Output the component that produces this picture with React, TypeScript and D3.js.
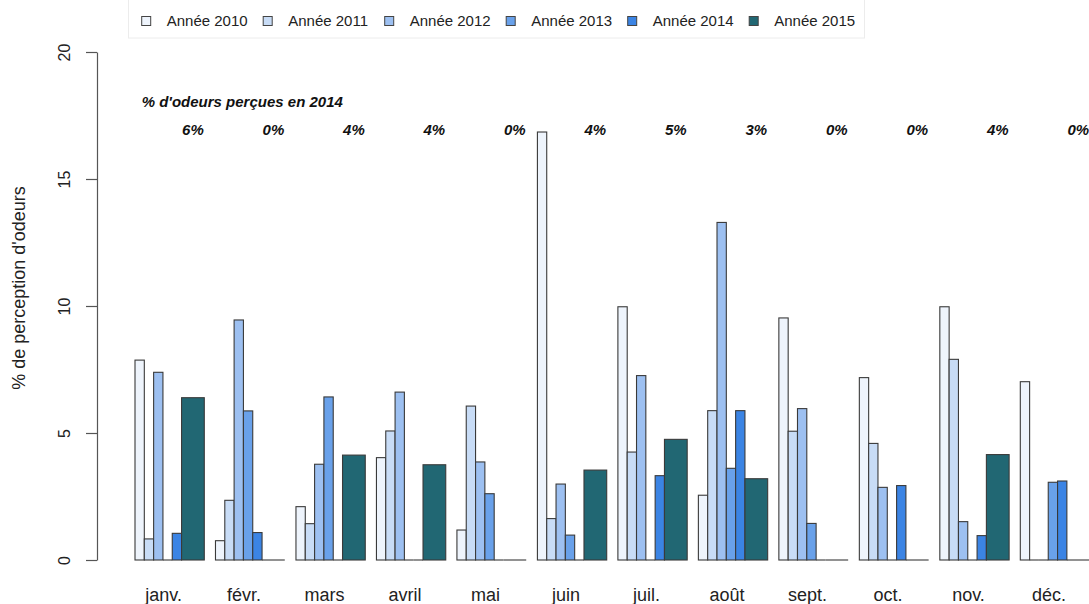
import React, { useEffect, useRef } from 'react';
import * as d3 from 'd3';

// Months on the x axis
const months = ['janv.', 'févr.', 'mars', 'avril', 'mai', 'juin', 'juil.', 'août', 'sept.', 'oct.', 'nov.', 'déc.'];

// One series per year
const years = ['Année 2010', 'Année 2011', 'Année 2012', 'Année 2013', 'Année 2014', 'Année 2015'];

const values2010 = [7.87, 0.76, 2.10, 4.03, 1.18, 16.85, 9.97, 2.55, 9.53, 7.18, 9.97, 7.02];
const values2011 = [0.83, 2.35, 1.43, 5.08, 6.06, 1.63, 4.25, 5.88, 5.07, 4.59, 7.90, 0];
const values2012 = [7.39, 9.45, 3.77, 6.61, 3.86, 2.99, 7.26, 13.29, 5.96, 2.86, 1.51, 0];
const values2013 = [0, 5.87, 6.42, 0, 2.61, 0.98, 0, 3.61, 1.44, 0, 0, 3.06];
const values2014 = [1.05, 1.08, 0, 0, 0, 0, 3.32, 5.88, 0, 2.93, 0.96, 3.11];
const values2015 = [6.39, 0, 4.13, 3.75, 0, 3.54, 4.75, 3.20, 0, 0, 4.15, 0];

// "% d'odeurs perçues en 2014" row
const pct2014 = ['6%', '0%', '4%', '4%', '0%', '4%', '5%', '3%', '0%', '0%', '4%', '0%'];

const yTicks = [0, 5, 10, 15, 20];

const colors = ['#eef4fc', '#c8dcf6', '#9dc0f1', '#69a1ea', '#3b84e4', '#216773'];
// relative widths of the bars inside a group (the last one is wider)
const barUnits = [1, 1, 1, 1, 1, 2.44];

const FONT = '"Liberation Sans", Arial, Helvetica, sans-serif';

export default function App() {
  const svgRef = useRef<SVGSVGElement>(null);

  useEffect(() => {
    if (!svgRef.current) return;
    document.body.style.margin = '0';

    const series = [values2010, values2011, values2012, values2013, values2014, values2015];

    const svg = d3.select(svgRef.current);
    svg.selectAll('*').remove();

    const plotLeft = 135;
    const plotRight = 1089.6;
    const yTop = 52;
    const yBottom = 560;

    // Scales
    const xScale = d3.scaleBand<string>()
      .domain(months)
      .range([plotLeft, plotRight])
      .paddingInner(0.139)
      .paddingOuter(0);

    const unitOffsets: number[] = [];
    let acc = 0;
    barUnits.forEach(u => { unitOffsets.push(acc); acc += u; });
    const inner = d3.scaleLinear().domain([0, acc]).range([0, xScale.bandwidth()]);

    const yScale = d3.scaleLinear().domain([0, 20]).range([yBottom, yTop]);

    // Legend box
    const legend = svg.append('g');
    legend.append('rect')
      .attr('x', 128.5)
      .attr('y', -2)
      .attr('width', 736)
      .attr('height', 40)
      .style('fill', '#fff')
      .style('stroke', '#ececec');

    years.forEach((name, i) => {
      const lx = 141.7 + i * 121.5;
      legend.append('rect')
        .attr('x', lx)
        .attr('y', 16.5)
        .attr('width', 9)
        .attr('height', 9)
        .style('fill', colors[i])
        .style('stroke', '#444')
        .style('stroke-width', 1);
      legend.append('text')
        .attr('x', lx + 25)
        .attr('y', 26)
        .style('font-family', FONT)
        .style('font-size', '15px')
        .style('fill', '#222')
        .text(name);
    });

    // Y axis
    const yAxis = svg.append('g')
      .attr('transform', 'translate(97,0)')
      .call(d3.axisLeft(yScale).tickValues(yTicks).tickSize(11).tickSizeOuter(0));
    yAxis.select('.domain').style('stroke', '#555').style('stroke-width', 1.2);
    yAxis.selectAll('.tick line').style('stroke', '#555').style('stroke-width', 1.2);
    yAxis.selectAll('.tick text')
      .attr('x', null)
      .attr('dy', null)
      .attr('transform', 'translate(-27,0) rotate(-90)')
      .attr('text-anchor', 'middle')
      .style('font-family', FONT)
      .style('font-size', '16px')
      .style('fill', '#222');

    // Y axis title
    svg.append('text')
      .attr('transform', 'translate(24.5,288) rotate(-90)')
      .attr('text-anchor', 'middle')
      .style('font-family', FONT)
      .style('font-size', '18px')
      .style('fill', '#222')
      .text("% de perception d'odeurs");

    // Bars
    months.forEach((m, mi) => {
      const gx = xScale(m)!;
      series.forEach((vals, si) => {
        const x0 = gx + inner(unitOffsets[si]);
        const w = inner(barUnits[si]) - inner(0);
        const v = vals[mi];
        if (v === 0) {
          // empty bar: only its outline remains, as a flat line on the baseline
          svg.append('line')
            .attr('x1', x0)
            .attr('x2', x0 + w)
            .attr('y1', yScale(0))
            .attr('y2', yScale(0))
            .style('stroke', '#3a3a3a')
            .style('stroke-width', 1.1);
          return;
        }
        svg.append('rect')
          .attr('x', x0)
          .attr('y', yScale(v))
          .attr('width', w)
          .attr('height', yScale(0) - yScale(v))
          .style('fill', colors[si])
          .style('stroke', '#3a3a3a')
          .style('stroke-width', 1.1);
      });

      // month label
      svg.append('text')
        .attr('x', gx + xScale.bandwidth() / 2 - 6)
        .attr('y', 601)
        .attr('text-anchor', 'middle')
        .style('font-family', FONT)
        .style('font-size', '18px')
        .style('fill', '#222')
        .text(m);

      // 2014 percentage, centred over the last bar
      svg.append('text')
        .attr('x', gx + inner(unitOffsets[5] + barUnits[5] / 2))
        .attr('y', 135)
        .attr('text-anchor', 'middle')
        .style('font-family', FONT)
        .style('font-size', '15px')
        .style('font-weight', '700')
        .style('font-style', 'italic')
        .style('fill', '#111')
        .text(pct2014[mi]);
    });

    // Annotation title
    svg.append('text')
      .attr('x', 141.7)
      .attr('y', 107)
      .style('font-family', FONT)
      .style('font-size', '15px')
      .style('font-weight', '700')
      .style('font-style', 'italic')
      .style('fill', '#111')
      .text("% d'odeurs perçues en 2014");
  }, []);

  return (
    <svg
      ref={svgRef}
      width={1089}
      height={604}
      style={{ position: 'absolute', left: 0, top: 0, background: '#fff' }}
    />
  );
}
